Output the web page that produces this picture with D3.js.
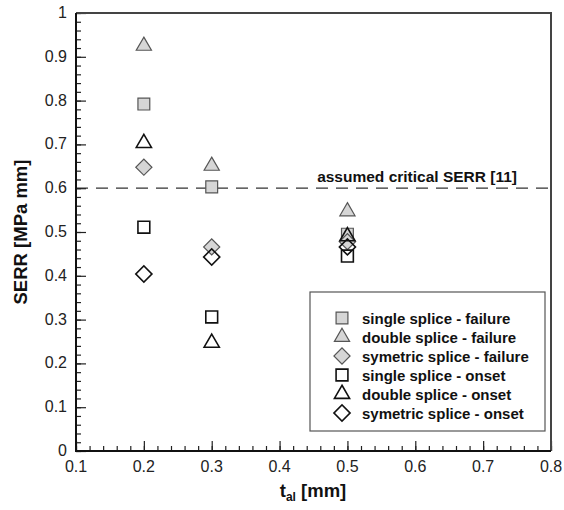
<!DOCTYPE html>
<html>
<head>
<meta charset="utf-8">
<script src="https://d3js.org/d3.v7.min.js"></script>
<style>
  body { margin: 0; background: #fff; }
  text { font-family: "Liberation Sans", Arial, sans-serif; }
</style>
</head>
<body>
<script>
// thickness values (mm)
var tal = [0.2, 0.3, 0.5];
// SERR values [MPa mm] per series
var singleFailure = [0.792, 0.603, 0.495];
var doubleFailure = [0.925, 0.651, 0.547];
var symFailure = [0.648, 0.466, 0.478];
var singleOnset = [0.511, 0.306, 0.445];
var doubleOnset = [0.703, 0.247, 0.490];
var symOnset = [0.404, 0.443, 0.466];
var seriesNames = ["single splice - failure", "double splice - failure", "symetric splice - failure",
                   "single splice - onset", "double splice - onset", "symetric splice - onset"];
var criticalSERR = 0.6;
var xTicks = [0.1, 0.2, 0.3, 0.4, 0.5, 0.6, 0.7, 0.8];
var yTicks = [0, 0.1, 0.2, 0.3, 0.4, 0.5, 0.6, 0.7, 0.8, 0.9, 1];

var series = [
  {name: seriesNames[0], values: singleFailure, shape: "square", filled: true},
  {name: seriesNames[1], values: doubleFailure, shape: "triangle", filled: true},
  {name: seriesNames[2], values: symFailure, shape: "diamond", filled: true},
  {name: seriesNames[3], values: singleOnset, shape: "square", filled: false},
  {name: seriesNames[4], values: doubleOnset, shape: "triangle", filled: false},
  {name: seriesNames[5], values: symOnset, shape: "diamond", filled: false}
];

var W = 564, H = 510;
var pLeft = 76, pRight = 551, pTop = 13, pBottom = 451;

var svg = d3.select("body").append("svg")
  .attr("width", W).attr("height", H);

var x = d3.scaleLinear().domain([0.1, 0.8]).range([pLeft, pRight]);
var y = d3.scaleLinear().domain([0, 1]).range([pBottom, pTop]);

// symbol generators
var symType = {square: d3.symbolSquare, triangle: d3.symbolTriangle, diamond: d3.symbolSquare};
var symSize = {square: 140, triangle: 100, diamond: 130};
function drawSym(g, s) {
  g.append("path")
    .attr("d", d3.symbol().type(symType[s.shape]).size(symSize[s.shape]))
    .attr("transform", s.shape === "diamond" ? "rotate(45)" : null)
    .attr("fill", s.filled ? "#d6d6d6" : "none")
    .attr("stroke", s.filled ? "#555" : "#111")
    .attr("stroke-width", s.filled ? 1.2 : 1.6);
}

// dashed critical line
svg.append("line")
  .attr("x1", x(0.1)).attr("x2", x(0.8))
  .attr("y1", y(criticalSERR)).attr("y2", y(criticalSERR))
  .attr("stroke", "#333").attr("stroke-width", 1.2)
  .attr("stroke-dasharray", "12,8");
svg.append("text")
  .attr("x", 517).attr("y", y(criticalSERR) - 6)
  .attr("text-anchor", "end")
  .attr("font-size", 15.5).attr("font-weight", "bold")
  .attr("fill", "#111")
  .text("assumed critical SERR [11]");

// markers
series.forEach(function(s) {
  s.values.forEach(function(v, i) {
    var g = svg.append("g").attr("transform", "translate(" + x(tal[i]) + "," + y(v) + ")");
    drawSym(g, s);
  });
});

// axes with inward ticks
var xAxis = svg.append("g").attr("transform", "translate(0," + pBottom + ")");
xAxis.call(d3.axisTop(x).tickValues(d3.range(0.1, 0.8001, 0.02)).tickSize(5).tickFormat(""));
xAxis.append("g").call(d3.axisTop(x).tickValues(xTicks).tickSize(10).tickFormat(""));
xAxis.selectAll(".domain").remove();
xAxis.selectAll("line").attr("stroke", "#222").attr("stroke-width", 1.2);
xTicks.forEach(function(t) {
  xAxis.append("text").attr("x", x(t)).attr("y", 21)
    .attr("text-anchor", "middle").attr("font-size", 16).attr("fill", "#222")
    .text(d3.format(".1f")(t));
});

var yAxis = svg.append("g").attr("transform", "translate(" + pLeft + ",0)");
yAxis.call(d3.axisRight(y).tickValues(d3.range(0, 1.0001, 0.02)).tickSize(5).tickFormat(""));
yAxis.append("g").call(d3.axisRight(y).tickValues(yTicks).tickSize(10).tickFormat(""));
yAxis.selectAll(".domain").remove();
yAxis.selectAll("line").attr("stroke", "#222").attr("stroke-width", 1.2);
yTicks.forEach(function(t) {
  yAxis.append("text").attr("x", -9).attr("y", y(t) + 5)
    .attr("text-anchor", "end").attr("font-size", 16).attr("fill", "#222")
    .text(t === 0 || t === 1 ? String(t) : d3.format(".1f")(t));
});

// frame
svg.append("path")
  .attr("d", "M" + pLeft + "," + pTop + "H" + pRight + "V" + pBottom)
  .attr("fill", "none").attr("stroke", "#444").attr("stroke-width", 2);
svg.append("path")
  .attr("d", "M" + pLeft + "," + pTop + "V" + pBottom + "H" + pRight)
  .attr("fill", "none").attr("stroke", "#111").attr("stroke-width", 2);

// legend
var lg = svg.append("g").attr("transform", "translate(310,292)");
lg.append("rect").attr("width", 235).attr("height", 139)
  .attr("fill", "#fff").attr("stroke", "#555").attr("stroke-width", 1.2);
series.forEach(function(s, i) {
  var row = lg.append("g").attr("transform", "translate(32," + (26 + i * 19) + ")");
  drawSym(row, s);
  row.append("text").attr("x", 20).attr("y", 5.5)
    .attr("font-size", 15).attr("font-weight", "bold").attr("fill", "#111")
    .text(s.name);
});

// axis titles
svg.append("text")
  .attr("transform", "translate(27," + ((pTop + pBottom) / 2) + ") rotate(-90)")
  .attr("text-anchor", "middle")
  .attr("font-size", 18.5).attr("font-weight", "bold").attr("fill", "#111")
  .text("SERR [MPa mm]");
var xt = svg.append("text")
  .attr("x", 313).attr("y", 497)
  .attr("text-anchor", "middle")
  .attr("font-size", 18.5).attr("font-weight", "bold").attr("fill", "#111");
xt.append("tspan").text("t");
xt.append("tspan").attr("font-size", 12).attr("dy", 4).text("al");
xt.append("tspan").attr("dy", -4).text(" [mm]");
</script>
</body>
</html>
